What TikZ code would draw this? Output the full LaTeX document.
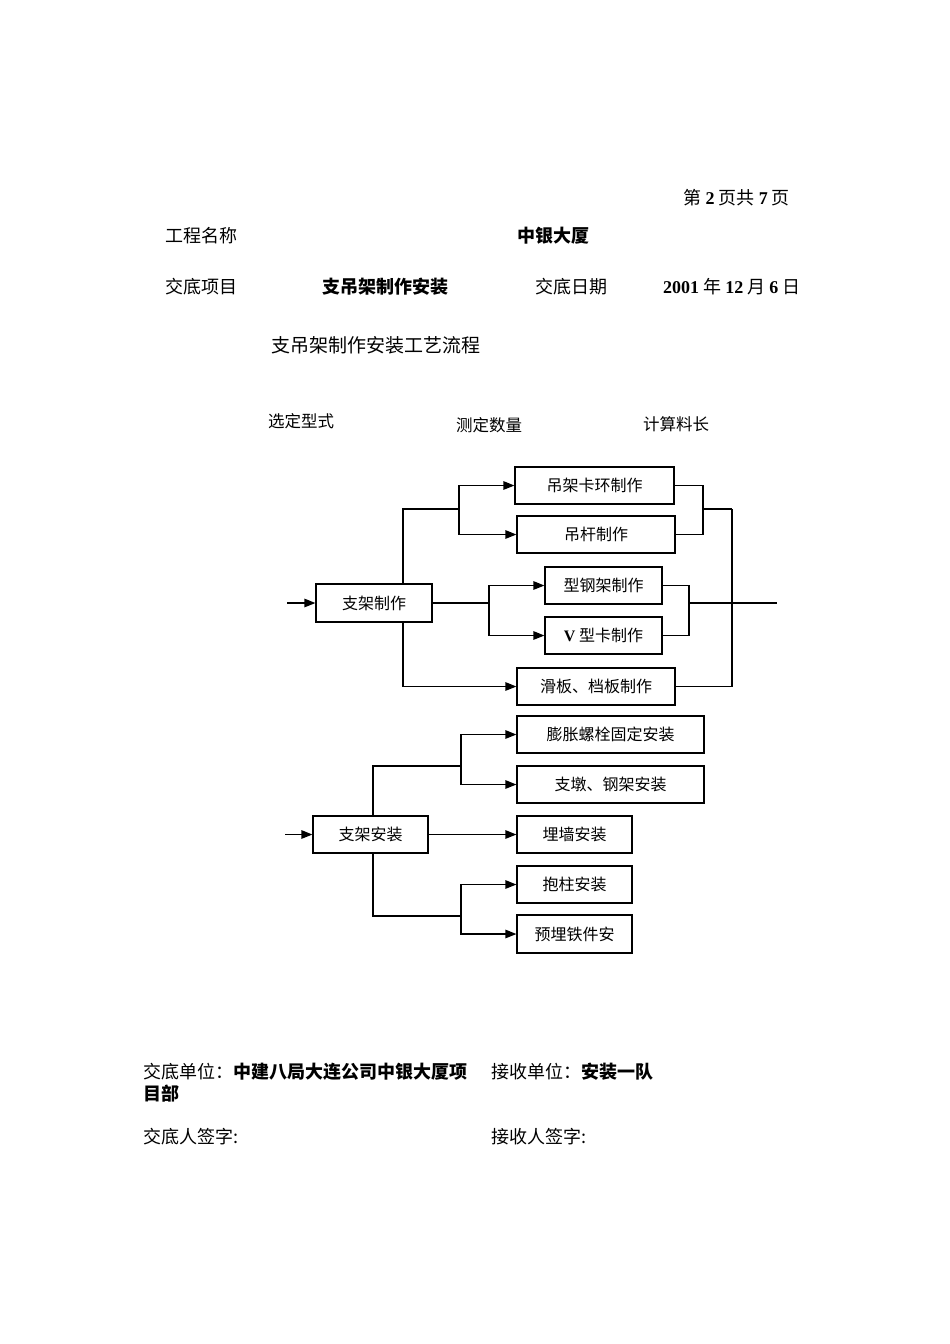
\documentclass[tikz,border=0pt]{standalone}
\usepackage{fontspec}
\setmainfont{Liberation Serif}
\newfontfamily\cjk{Noto Sans CJK SC}
\usetikzlibrary{arrows.meta}
\newcommand\dig[1]{{\rmfamily\bfseries #1}}
\begin{document}
\begin{tikzpicture}[x=1pt,y=-1pt,
  txt/.style={anchor=west,inner sep=0pt,font=\cjk\fontsize{18}{18}\selectfont},
  lbl/.style={anchor=west,inner sep=0pt,font=\cjk\fontsize{16.5}{16.5}\selectfont},
  box/.style={draw,line width=1.2pt,inner sep=0pt,minimum height=37pt,font=\cjk\fontsize{16}{16}\selectfont},
  ln/.style={line width=1.2pt},
  arr/.style={line width=1.2pt,-{Triangle[length=11pt,width=8.5pt]}}]
\useasboundingbox (0,0) rectangle (950,1344);
\fill[white] (0,0) rectangle (950,1344);

% header
\node[txt,anchor=east] (pg) at (790,198) {第 \dig{2} 页共 \dig{7} 页};
\node[txt] (gcmc) at (165,236) {工程名称};
\node[txt] (gcv) at (517,236) {\bfseries 中银大厦};
\node[txt] (jdxm) at (165,287) {交底项目};
\node[txt] (jdv) at (322,287) {\bfseries 支吊架制作安装};
\node[txt] (jdrq) at (535,287) {交底日期};
\node[txt] (date) at (663,287) {\dig{2001} 年 \dig{12} 月 \dig{6} 日};
\node[txt,font=\cjk\fontsize{19}{19}\selectfont] (title) at (271,345) {支吊架制作安装工艺流程};
\node[lbl] (l1) at (268,421) {选定型式};
\node[lbl] (l2) at (456,425) {测定数量};
\node[lbl] (l3) at (643,424) {计算料长};

% upper flow
\node[box,minimum width=116pt,minimum height=38pt] (m1) at (374,603) {支架制作};
\node[box,minimum width=159pt] (b1) at (594.5,485.5) {吊架卡环制作};
\node[box,minimum width=158pt] (b2) at (596,534.5) {吊杆制作};
\node[box,minimum width=117pt] (b3) at (603.5,585.5) {型钢架制作};
\node[box,minimum width=117pt] (b4) at (603.5,635.5) {\dig{V} 型卡制作};
\node[box,minimum width=158pt] (b5) at (596,686.5) {滑板、档板制作};

\coordinate (in1) at (287,603);
\coordinate (j1) at (403,509);
\coordinate (j2) at (459,509);
\coordinate (j3) at (489,603);
\coordinate (r1) at (703,509);
\coordinate (r2) at (732,509);
\coordinate (r3) at (689,603);
\coordinate (out1) at (777,603);

\draw[arr] (in1) -- (m1.west);
\draw[ln] (j1 |- m1.north) -- (j1) -- (j2);
\draw[arr] (j2) |- (b1.west);
\draw[arr] (j2) |- (b2.west);
\draw[arr] (j1 |- m1.south) |- (b5.west);
\draw[ln] (m1.east) -- (j3);
\draw[arr] (j3) |- (b3.west);
\draw[arr] (j3) |- (b4.west);
\draw[ln] (b1.east) -| (r1);
\draw[ln] (b2.east) -| (r1);
\draw[ln] (r1) -- (r2);
\draw[ln] (r2) |- (b5.east);
\draw[ln] (b3.east) -| (r3);
\draw[ln] (b4.east) -| (r3);
\draw[ln] (r3) -- (out1);

% lower flow
\node[box,minimum width=115pt] (m2) at (370.5,834.5) {支架安装};
\node[box,minimum width=187pt] (c1) at (610.5,734.5) {膨胀螺栓固定安装};
\node[box,minimum width=187pt] (c2) at (610.5,784.5) {支墩、钢架安装};
\node[box,minimum width=115pt] (c3) at (574.5,834.5) {埋墙安装};
\node[box,minimum width=115pt] (c4) at (574.5,884.5) {抱柱安装};
\node[box,minimum width=115pt,minimum height=38pt] (c5) at (574.5,934) {预埋铁件安};

\coordinate (in2) at (285,834.5);
\coordinate (j4) at (373,766);
\coordinate (j5) at (461,766);
\coordinate (j6) at (373,916);
\coordinate (j7) at (461,916);

\draw[arr] (in2) -- (m2.west);
\draw[ln] (j4 |- m2.north) -- (j4) -- (j5);
\draw[arr] (j5) |- (c1.west);
\draw[arr] (j5) |- (c2.west);
\draw[arr] (m2.east) -- (c3.west);
\draw[ln] (j6 |- m2.south) -- (j6) -- (j7);
\draw[arr] (j7) |- (c4.west);
\draw[arr] (j7) |- (c5.west);

% footer
\node[txt] (f1) at (143,1072) {交底单位：\bfseries 中建八局大连公司中银大厦项};
\node[txt] (f2) at (143,1094) {\bfseries 目部};
\node[txt] (f3) at (491,1072) {接收单位：\bfseries 安装一队};
\node[txt] (f4) at (143,1137) {交底人签字:};
\node[txt] (f5) at (491,1137) {接收人签字:};
\end{tikzpicture}
\end{document}
